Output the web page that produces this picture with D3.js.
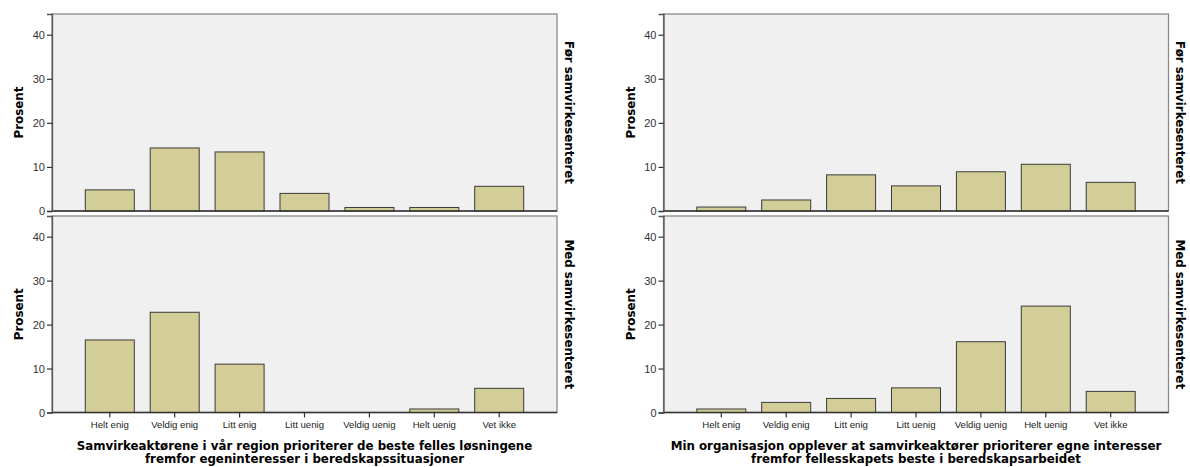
<!DOCTYPE html>
<html>
<head>
<meta charset="utf-8">
<script src="https://cdn.jsdelivr.net/npm/d3@7"></script>
<style>
  html, body { margin: 0; padding: 0; background: #ffffff; }
  svg { display: block; }
</style>
</head>
<body>
<svg id="chart" width="1190" height="467"></svg>
<script>
// ---- Data ----
const categories = ["Helt enig", "Veldig enig", "Litt enig", "Litt uenig", "Veldig uenig", "Helt uenig", "Vet ikke"];
const rowLabels = ["Før samvirkesenteret", "Med samvirkesenteret"];
const yTicks = [0, 10, 20, 30, 40];
const yLabel = "Prosent";

const leftTitle = ["Samvirkeaktørene i vår region prioriterer de beste felles løsningene",
                   "fremfor egeninteresser i beredskapssituasjoner"];
const rightTitle = ["Min organisasjon opplever at samvirkeaktører prioriterer egne interesser",
                    "fremfor fellesskapets beste i beredskapsarbeidet"];

const leftFor  = [4.8, 14.3, 13.4, 4.0, 0.8, 0.8, 5.6];
const leftMed  = [16.5, 22.8, 11.0, 0.0, 0.0, 0.8, 5.5];
const rightFor = [0.9, 2.5, 8.2, 5.7, 8.9, 10.6, 6.5];
const rightMed = [0.8, 2.3, 3.2, 5.6, 16.1, 24.2, 4.8];

// ---- Layout ----
const svg = d3.select("#chart");
const yMax = 44.7;
const panelsX = [[52, 557], [663.5, 1168.5]];
const panelsY = [[14, 211], [216, 412.5]];
const series = [[leftFor, leftMed], [rightFor, rightMed]];
const titles = [leftTitle, rightTitle];

const barFill = "#d3ce97";
const barStroke = "#3a3a3a";
const panelBg = "#f0f0f0";
const frameStroke = "#8a8a8a";

function fitSize(text, weight, family, target, base) {
  const t = svg.append("text").attr("font-family", family).attr("font-weight", weight)
    .attr("font-size", base).text(text);
  const w = t.node().getComputedTextLength();
  t.remove();
  return base * target / w;
}

const titleFont = "'DejaVu Sans', Verdana, sans-serif";
const tickFont = "'Liberation Sans', Arial, sans-serif";
const titleSize = fitSize(leftTitle[0], "bold", titleFont, 456, 12);
const stripSize = fitSize(rowLabels[0], "bold", titleFont, 143, 12);
const prosentSize = fitSize(yLabel, "bold", titleFont, 52, 12);
const catSize = fitSize(categories[0], "normal", tickFont, 38, 10);

panelsX.forEach(([x0, x1], c) => {
  const x = d3.scaleBand().domain(categories).range([x0, x1])
    .paddingInner(0.245).paddingOuter(0.513);

  panelsY.forEach(([yt, yb], r) => {
    const y = d3.scaleLinear().domain([0, yMax]).range([yb, yt]);
    const g = svg.append("g");

    // panel background + frame
    g.append("rect").attr("x", x0).attr("y", yt).attr("width", x1 - x0).attr("height", yb - yt)
      .attr("fill", panelBg).attr("stroke", frameStroke).attr("stroke-width", 1.3);

    // bars
    g.selectAll("rect.bar").data(series[c][r]).join("rect").attr("class", "bar")
      .attr("x", (d, i) => x(categories[i]))
      .attr("width", x.bandwidth())
      .attr("y", d => y(d))
      .attr("height", d => y(0) - y(d))
      .attr("fill", barFill).attr("stroke", barStroke).attr("stroke-width", 1);

    // baseline
    g.append("line").attr("x1", x0).attr("x2", x1).attr("y1", y(0)).attr("y2", y(0))
      .attr("stroke", "#333").attr("stroke-width", 1.5);

    // y axis
    const ay = g.append("g").attr("transform", `translate(${x0},0)`)
      .call(d3.axisLeft(y).tickValues(yTicks).tickSize(5).tickPadding(2).tickFormat(d3.format("d")));
    ay.select(".domain").attr("stroke", "#555").attr("stroke-width", 1.3);
    ay.selectAll(".tick line").attr("stroke", "#333").attr("stroke-width", 1.2);
    ay.selectAll(".tick text").attr("font-family", tickFont).attr("font-size", 11).attr("fill", "#333");

    // y label
    g.append("text")
      .attr("transform", `translate(${x0 - 33},${(yt + yb) / 2}) rotate(-90)`)
      .attr("text-anchor", "middle").attr("dy", "0.35em")
      .attr("font-family", titleFont).attr("font-weight", "bold").attr("font-size", prosentSize)
      .attr("fill", "#000").text(yLabel);

    // strip label
    g.append("text")
      .attr("transform", `translate(${x1 + 12},${(yt + yb) / 2}) rotate(90)`)
      .attr("text-anchor", "middle").attr("dy", "0.35em")
      .attr("font-family", titleFont).attr("font-weight", "bold").attr("font-size", stripSize)
      .attr("fill", "#000").text(rowLabels[r]);

    // x axis on bottom row
    if (r === panelsY.length - 1) {
      const ax = g.append("g").attr("transform", `translate(0,${yb})`)
        .call(d3.axisBottom(x).tickSize(5).tickPadding(4));
      ax.select(".domain").remove();
      ax.selectAll(".tick line").attr("stroke", "#333").attr("stroke-width", 1.2);
      ax.selectAll(".tick text").attr("font-family", tickFont).attr("font-size", catSize).attr("fill", "#222");

      const tt = g.append("text").attr("text-anchor", "middle")
        .attr("font-family", titleFont).attr("font-weight", "bold").attr("font-size", titleSize)
        .attr("fill", "#000");
      titles[c].forEach((line, i) => {
        tt.append("tspan").attr("x", (x0 + x1) / 2).attr("y", 450 + i * 12.5).text(line);
      });
    }
  });
});
</script>
</body>
</html>
